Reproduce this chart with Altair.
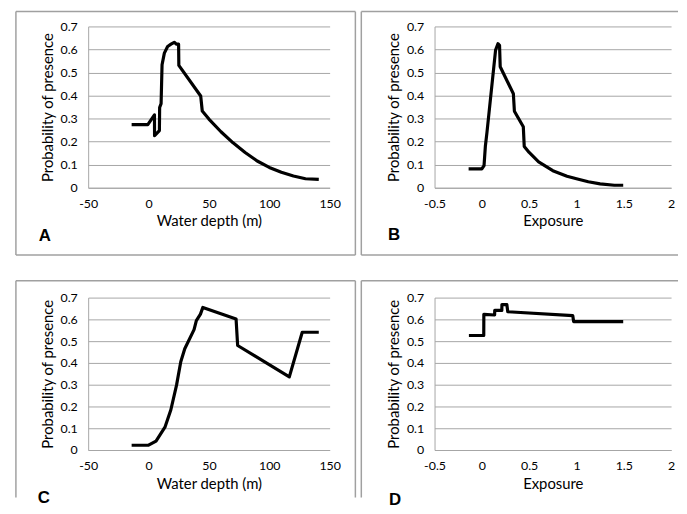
import altair as alt
import pandas as pd

# ---- data ----
a_depth = [-14, -0.6, 4.9, 5.0, 9.0, 9.2, 10.4, 11.2, 13.1, 15.8, 18.6, 21.3, 23.2, 24.9, 25.1,
           43.2, 44.5, 50, 60, 70, 80, 90, 100, 110, 120, 130, 141]
a_prob = [0.274, 0.274, 0.316, 0.226, 0.248, 0.348, 0.365, 0.534, 0.584, 0.613, 0.623, 0.631, 0.623,
          0.623, 0.531, 0.398, 0.333, 0.298, 0.243, 0.195, 0.153, 0.116, 0.088, 0.067, 0.051, 0.039, 0.036]

b_exp = [-0.14, 0.0, 0.023, 0.037, 0.054, 0.145, 0.17, 0.187, 0.194, 0.333, 0.344, 0.438, 0.448,
         0.5, 0.6, 0.75, 0.9, 1.0, 1.125, 1.25, 1.4, 1.494]
b_prob = [0.082, 0.082, 0.096, 0.18, 0.24, 0.597, 0.625, 0.618, 0.525, 0.408, 0.332, 0.265, 0.179,
          0.153, 0.112, 0.074, 0.05, 0.039, 0.026, 0.017, 0.011, 0.011]

c_depth = [-14, 0, 6.2, 13.6, 18.5, 23.2, 26.7, 30, 37.7, 39.6, 43, 45, 72.5, 73.8, 116.6, 127.3, 141]
c_prob = [0.022, 0.022, 0.041, 0.105, 0.185, 0.298, 0.405, 0.465, 0.553, 0.594, 0.624, 0.655,
          0.602, 0.48, 0.336, 0.541, 0.541]

d_exp = [-0.137, 0.02, 0.021, 0.135, 0.136, 0.211, 0.212, 0.264, 0.274, 0.961, 0.97, 1.494]
d_prob = [0.526, 0.526, 0.623, 0.62, 0.641, 0.641, 0.668, 0.668, 0.635, 0.617, 0.59, 0.59]

depth_ticks = [-50, 0, 50, 100, 150]
exp_ticks = [-0.5, 0, 0.5, 1, 1.5, 2]
prob_ticks = [0, 0.1, 0.2, 0.3, 0.4, 0.5, 0.6, 0.7]

FONT = "Lato"
GRID = "#a6a6a6"
BORDER = "#a0a0a0"


def rule(x, y, x2=None, y2=None):
    enc = dict(x=alt.value(x), y=alt.value(y))
    if x2 is not None:
        enc["x2"] = alt.value(x2)
    if y2 is not None:
        enc["y2"] = alt.value(y2)
    return alt.Chart(pd.DataFrame({"k": [0]})).mark_rule(
        color=BORDER, strokeWidth=1.5, clip=False).encode(**enc)


def panel(xs, ys, xdom, xticks, xtitle, w, h, letter, lx, ly, borders):
    df = pd.DataFrame({"x": xs, "y": ys, "i": list(range(len(xs)))})
    line = alt.Chart(df).mark_line(color="black", strokeWidth=3.2, strokeJoin="round").encode(
        x=alt.X("x:Q", scale=alt.Scale(domain=xdom, nice=False, zero=False),
                axis=alt.Axis(values=xticks, format="~r", title=xtitle, grid=False, ticks=False,
                              labelFlush=False, labelOverlap=False, labelPadding=10,
                              labelExpr="replace(datum.label, '\u2212', '-')",
                              titlePadding=4)),
        y=alt.Y("y:Q", scale=alt.Scale(domain=[0, 0.7], nice=False),
                axis=alt.Axis(values=prob_ticks, format="~g", title="Probability of presence",
                              grid=True, ticks=False, labelPadding=11, titlePadding=5)),
        order=alt.Order("i:Q"),
    )
    txt = alt.Chart(pd.DataFrame({"t": [letter]})).mark_text(
        font="Liberation Sans", fontWeight="bold", fontSize=17, align="left",
        baseline="alphabetic", color="black").encode(
        x=alt.value(lx), y=alt.value(ly), text="t:N")
    layers = [rule(*b) for b in borders] + [line, txt]
    return alt.layer(*layers).properties(width=w, height=h)


# borders relative to each plot area: (x, y, x2, y2)
pa = panel(a_depth, a_prob, [-50, 150], depth_ticks, "Water depth (m)", 244, 163, "A", -50, 217,
           [(-73, -15, 270, None), (-73, 231, 270, None), (-73, -15, None, 231), (270, -15, None, 231)])
pb = panel(b_exp, b_prob, [-0.5, 2], exp_ticks, "Exposure", 239, 163, "B", -47, 216,
           [(-74, -15, 246, None), (-74, 231, 246, None), (-74, -15, None, 231)])
pc = panel(c_depth, c_prob, [-50, 150], depth_ticks, "Water depth (m)", 244, 154, "C", -51, 208,
           [(-73, -17, 270, None), (-73, -17, None, 202), (270, -17, None, 202)])
pd_ = panel(d_exp, d_prob, [-0.5, 2], exp_ticks, "Exposure", 239, 154, "D", -46, 210,
            [(-74, -17, 246, None), (-74, -17, None, 202)])

chart = alt.concat(pa, pb, pc, pd_, columns=2, spacing={"row": 111, "column": 106}).properties(
    bounds="flush",
    padding={"left": 7, "top": 0, "right": 0, "bottom": 0},
).configure_view(stroke=None).configure_axis(
    gridColor=GRID, domainColor=GRID, domainWidth=1, gridWidth=1,
    labelFont=FONT, labelFontSize=12.5, labelColor="black",
    titleFont=FONT, titleFontSize=15, titleFontWeight="normal", titleColor="black",
)

chart.save("out.html", embed_options={"renderer": "svg", "actions": False})
